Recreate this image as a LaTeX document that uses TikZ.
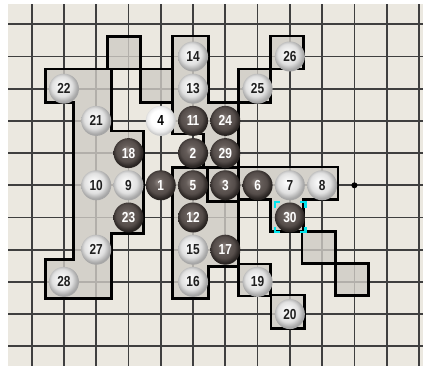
\documentclass[tikz,border=0pt]{standalone}
\usepackage{fontspec}
\newfontfamily\numfont[FakeStretch=0.82]{Liberation Sans}
\definecolor{bg}{HTML}{EBE8E0}
\definecolor{shadefill}{HTML}{CFCCC5}
\definecolor{gridc}{HTML}{3F3F3F}
\definecolor{selc}{HTML}{00E5EE}
\definecolor{bhi}{HTML}{938A86}
\definecolor{bmid}{HTML}{554D4A}
\definecolor{brim}{HTML}{2A2523}
\definecolor{whi}{HTML}{FFFFFF}
\definecolor{wmid}{HTML}{E0E0E0}
\definecolor{wrim}{HTML}{A6A6A6}
\pgfdeclareradialshading{wst}{\pgfpoint{-5bp}{6bp}}{color(0bp)=(whi); color(7bp)=(whi!60!wmid); color(17bp)=(wmid); color(25bp)=(wrim); color(50bp)=(wrim)}
\pgfdeclareradialshading{wsttop}{\pgfpoint{-4bp}{5bp}}{color(0bp)=(whi); color(14bp)=(whi); color(21bp)=(whi!92!black); color(25bp)=(whi!80!black); color(50bp)=(whi!80!black)}
\pgfdeclareradialshading{bst}{\pgfpoint{-4bp}{6bp}}{color(0bp)=(bhi); color(9bp)=(bmid!75!bhi); color(18bp)=(bmid); color(25bp)=(brim); color(50bp)=(brim)}
\tikzset{
  gridline/.style={draw=gridc, line width=1.8pt},
  regionfill/.style={fill=shadefill, fill opacity=0.8},
  regionline/.style={draw=black, line width=2.8pt, line join=miter},
  stonebase/.style={circle, minimum size=30pt, inner sep=0pt, font=\numfont\bfseries\fontsize{14.5}{14.5}\selectfont},
  stonew/.style={stonebase, shade, shading=wst, text=black!88},
  stoneb/.style={stonebase, shade, shading=bst, text=white},
  stonex/.style={stonebase, shade, shading=wsttop, text=black},
  selmark/.style={draw=selc, line width=2.2pt},
  dotmark/.style={circle, fill=black, inner sep=0pt, minimum size=6pt}
}
\begin{document}
\begin{tikzpicture}[x=1pt, y=-1pt]
\useasboundingbox (0,0) rectangle (423,367);
\fill[white] (0,0) rectangle (423,367);
\fill[bg] (8,4) rectangle (423,366);
% grid
\foreach \i in {0,...,12} \draw[gridline] ({31.7+32.27*\i},4) -- ({31.7+32.27*\i},366);
\foreach \j in {0,...,10} \draw[gridline] (8,{24.3+32.2*\j}) -- (423,{24.3+32.2*\j});
% region fills
\path[regionfill] (45.7,69) -- (111.7,69) -- (111.7,131) -- (143.3,131) -- (143.3,233.5) -- (111.7,233.5) -- (111.7,298.7) -- (45.7,298.7) -- (45.7,259.8) -- (73.3,259.8) -- (73.3,102.3) -- (45.7,102.3) -- cycle;
\path[regionfill] (107.7,36.3) rectangle (140.5,69);
\path[regionfill] (140.5,69) rectangle (172.7,102.3);
\path[regionfill] (172.7,36) -- (208.3,36) -- (208.3,102.5) -- (238.3,102.5) -- (238.3,167.5) -- (203.3,167.5) -- (203.3,134) -- (172.7,134) -- cycle;
\path[regionfill] (238.3,69) rectangle (270.3,102.5);
\path[regionfill] (270.3,36) rectangle (303.3,69);
\path[regionfill] (172.7,167.5) -- (238.3,167.5) -- (238.3,266.5) -- (208.3,266.5) -- (208.3,298.5) -- (172.7,298.5) -- cycle;
\path[regionfill] (238.3,167) -- (338,167) -- (338,199.3) -- (303.3,199.3) -- (303.3,231.5) -- (270.3,231.5) -- (270.3,199.8) -- (238.3,199.8) -- cycle;
\path[regionfill] (302,231.5) rectangle (335.7,263.5);
\path[regionfill] (335.7,263.5) rectangle (368.7,295.5);
\path[regionfill] (238.3,264) rectangle (270.7,296);
\path[regionfill] (271,295) rectangle (304.3,328.5);
% region outlines
\path[regionline] (45.7,69) -- (111.7,69) -- (111.7,131) -- (143.3,131) -- (143.3,233.5) -- (111.7,233.5) -- (111.7,298.7) -- (45.7,298.7) -- (45.7,259.8) -- (73.3,259.8) -- (73.3,102.3) -- (45.7,102.3) -- cycle;
\path[regionline] (107.7,36.3) rectangle (140.5,69);
\path[regionline] (140.5,69) rectangle (172.7,102.3);
\path[regionline] (172.7,36) -- (208.3,36) -- (208.3,102.5) -- (238.3,102.5) -- (238.3,167.5) -- (203.3,167.5) -- (203.3,134) -- (172.7,134) -- cycle;
\path[regionline] (238.3,69) rectangle (270.3,102.5);
\path[regionline] (270.3,36) rectangle (303.3,69);
\path[regionline] (172.7,167.5) -- (238.3,167.5) -- (238.3,266.5) -- (208.3,266.5) -- (208.3,298.5) -- (172.7,298.5) -- cycle;
\path[regionline] (207.3,167.5) rectangle (238.3,201.5);
\path[regionline] (238.3,167) -- (338,167) -- (338,199.3) -- (303.3,199.3) -- (303.3,231.5) -- (270.3,231.5) -- (270.3,199.8) -- (238.3,199.8) -- cycle;
\path[regionline] (302,231.5) rectangle (335.7,263.5);
\path[regionline] (335.7,263.5) rectangle (368.7,295.5);
\path[regionline] (238.3,264) rectangle (270.7,296);
\path[regionline] (271,295) rectangle (304.3,328.5);
% stones
\foreach \i/\j/\t/\n in {5/1/w/14, 8/1/w/26, 1/2/w/22, 5/2/w/13, 7/2/w/25, 2/3/w/21, 4/3/x/4, 5/3/b/11, 6/3/b/24, 3/4/b/18, 5/4/b/2, 6/4/b/29, 2/5/w/10, 3/5/w/9, 4/5/b/1, 5/5/b/5, 6/5/b/3, 7/5/b/6, 8/5/w/7, 9/5/w/8, 3/6/b/23, 5/6/b/12, 8/6/b/30, 2/7/w/27, 5/7/w/15, 6/7/b/17, 1/8/w/28, 5/8/w/16, 7/8/w/19, 8/9/w/20}
  \node[stone\t] (s\n) at ({31.7+32.27*\i},{24.3+32.2*\j}) {\n};
% small point
\node[dotmark] (pt) at ({31.7+32.27*10},{24.3+32.2*5}) {};
% selection marks around stone 30
\draw[selmark] (274.6,208) -- (274.6,202.2) -- (280,202.2);
\draw[selmark] (300,202.2) -- (305.4,202.2) -- (305.4,208);
\draw[selmark] (274.6,226.5) -- (274.6,232) -- (280,232);
\draw[selmark] (300,232) -- (305.4,232) -- (305.4,226.5);
\end{tikzpicture}
\end{document}
